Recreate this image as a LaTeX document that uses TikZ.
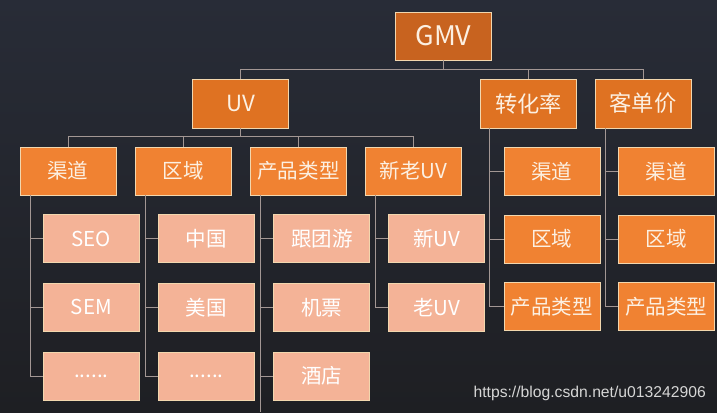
\documentclass[tikz,border=0pt]{standalone}
\usepackage{fontspec}
\newfontfamily\cjk{Noto Sans CJK SC}
\newfontfamily\wmfont{Liberation Sans}
\usetikzlibrary{positioning, calc}
\definecolor{bgtop}{HTML}{282C37}
\definecolor{bgbot}{HTML}{1E1F23}
\definecolor{gmvorange}{HTML}{C8631F}
\definecolor{uvorange}{HTML}{DF7222}
\definecolor{midorange}{HTML}{F08232}
\definecolor{leafpink}{HTML}{F4B397}
\definecolor{edgecream}{HTML}{F2D7AE}
\definecolor{linkgray}{HTML}{A39794}
\definecolor{txtcream}{HTML}{FCF0E2}
\definecolor{wmgray}{HTML}{D6D6D6}
\tikzset{
  box/.style={rectangle, draw=edgecream, line width=0.6pt, inner sep=0pt,
    minimum width=2.88cm, minimum height=1.44cm, text=txtcream,
    font=\cjk\fontsize{17.5}{20}\selectfont},
  topbox/.style={box, fill=gmvorange, minimum width=2.9cm,
    font=\cjk\fontsize{23}{26}\selectfont},
  uvbox/.style={box, fill=uvorange, minimum height=1.47cm,
    font=\cjk\fontsize{19}{22}\selectfont},
  midbox/.style={box, fill=midorange},
  leafbox/.style={box, fill=leafpink, text=white},
  link/.style={draw=linkgray, line width=0.7pt},
  wm/.style={text=wmgray, font=\wmfont\fontsize{13.4}{15}\selectfont, inner sep=0pt}
}

\begin{document}
\begin{tikzpicture}[x=0.03cm, y=-0.03cm]
  % background
  \shade[top color=bgtop, bottom color=bgbot] (0,0) rectangle (717,412);
  \useasboundingbox (0,0) rectangle (717,412);
  \coordinate (pbottom) at (0,412);

  % top levels
  \node[topbox] (gmv) at (443.5,36) {GMV};
  \node[uvbox] (uv) at (240.75,103.5) {UV};
  \node[uvbox] (cvr) at (528.6,103.5) {转化率};
  \node[uvbox] (aov) at (643,103.5) {客单价};

  % UV breakdown
  \node[midbox] (ch) at (68,171) {渠道};
  \node[midbox] (rg) at (183,171) {区域};
  \node[midbox] (pt) at (298.5,171) {产品类型};
  \node[midbox] (nu) at (413.5,171) {新老UV};

  % leaves under UV
  \node[leafbox, below=0.57cm of ch, xshift=0.7cm] (seo) {SEO};
  \node[leafbox, below=0.6cm of seo] (sem) {SEM};
  \node[leafbox, below=0.6cm of sem] (chmore) {......};
  \node[leafbox, below=0.57cm of rg, xshift=0.7cm] (cn) {中国};
  \node[leafbox, below=0.6cm of cn] (us) {美国};
  \node[leafbox, below=0.6cm of us] (rgmore) {......};
  \node[leafbox, below=0.57cm of pt, xshift=0.7cm] (tour) {跟团游};
  \node[leafbox, below=0.6cm of tour] (air) {机票};
  \node[leafbox, below=0.6cm of air] (hotel) {酒店};
  \node[leafbox, below=0.57cm of nu, xshift=0.7cm] (newuv) {新UV};
  \node[leafbox, below=0.6cm of newuv] (olduv) {老UV};

  % conversion rate / order value breakdown
  \node[midbox, below=0.56cm of cvr, xshift=0.7cm] (cvrch) {渠道};
  \node[midbox, below=0.57cm of cvrch] (cvrrg) {区域};
  \node[midbox, below=0.57cm of cvrrg] (cvrpt) {产品类型};
  \node[midbox, below=0.56cm of aov, xshift=0.7cm] (aovch) {渠道};
  \node[midbox, below=0.57cm of aovch] (aovrg) {区域};
  \node[midbox, below=0.57cm of aovrg] (aovpt) {产品类型};

  % GMV links
  \draw[link] (gmv.south) -- ++(0,9) -| (uv.north);
  \draw[link] (gmv.south) -- ++(0,9) -| (cvr.north);
  \draw[link] (gmv.south) -- ++(0,9) -| (aov.north);

  % UV links
  \draw[link] (uv.south) -- ++(0,8.5) -| (ch.north);
  \draw[link] (uv.south) -- ++(0,8.5) -| (rg.north);
  \draw[link] (uv.south) -- ++(0,8.5) -| (pt.north);
  \draw[link] (uv.south) -- ++(0,8.5) -| (nu.north);

  % spines to leaves
  \draw[link] ([xshift=0.32cm]ch.south west) |- (seo.west);
  \draw[link] ([xshift=0.32cm]ch.south west) |- (sem.west);
  \draw[link] ([xshift=0.32cm]ch.south west) |- (chmore.west);
  \draw[link] ([xshift=0.32cm]rg.south west) |- (cn.west);
  \draw[link] ([xshift=0.32cm]rg.south west) |- (us.west);
  \draw[link] ([xshift=0.32cm]rg.south west) |- (rgmore.west);
  \draw[link] ([xshift=0.3cm]pt.south west) |- (tour.west);
  \draw[link] ([xshift=0.3cm]pt.south west) |- (air.west);
  \draw[link] ([xshift=0.3cm]pt.south west) |- (hotel.west);
  \draw[link] ([xshift=0.3cm]pt.south west) -- ([xshift=0.3cm]pt.south west |- pbottom);
  \draw[link] ([xshift=0.3cm]nu.south west) |- (newuv.west);
  \draw[link] ([xshift=0.3cm]nu.south west) |- (olduv.west);

  \draw[link] ([xshift=0.28cm]cvr.south west) |- (cvrch.west);
  \draw[link] ([xshift=0.28cm]cvr.south west) |- (cvrrg.west);
  \draw[link] ([xshift=0.28cm]cvr.south west) |- (cvrpt.west);
  \draw[link] ([xshift=0.32cm]aov.south west) |- (aovch.west);
  \draw[link] ([xshift=0.32cm]aov.south west) |- (aovrg.west);
  \draw[link] ([xshift=0.32cm]aov.south west) |- (aovpt.west);

  % watermark
  \node[wm, anchor=east] (wmark) at (706,393) {https://blog.csdn.net/u013242906};
\end{tikzpicture}
\end{document}
